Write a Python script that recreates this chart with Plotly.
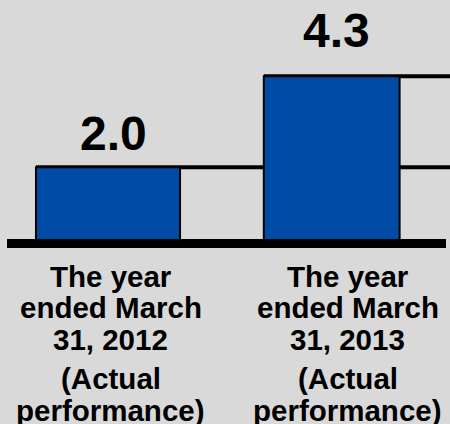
import plotly.graph_objects as go

# Data
categories = ["FY2012", "FY2013"]
values = [2.0, 4.3]
value_labels = ["2.0", "4.3"]
label_lines = [
    [["The year", "ended March", "31, 2012"], ["(Actual", "performance)"]],
    [["The year", "ended March", "31, 2013"], ["(Actual", "performance)"]],
]

# Styling
BG = "#d9d9d9"
BAR_BLUE = "#004ba5"
FONT = "Liberation Sans, Arial, sans-serif"
bar_widths = [0.644, 0.607]
x_range = [-0.4828, 1.5288]
y_range = [-4.482, 6.225]
value_xshift = 5
value_yshift = [5, 17]
cat_xshift = [2.5, 16]
cat_font_size = 29.5
line_pitch = 31.5
para_gap = 8
first_line_offset = 29.5

fig = go.Figure()
fig.add_trace(go.Bar(
    x=categories,
    y=values,
    width=bar_widths,
    marker=dict(color=BAR_BLUE, line=dict(color="black", width=2)),
    hoverinfo="skip",
))

shapes = []
# Horizontal level lines running from each bar's left edge to the right edge
for i, v in enumerate(values):
    shapes.append(dict(
        type="line", xref="x", yref="y",
        x0=i - bar_widths[i] / 2, x1=x_range[1], y0=v, y1=v,
        line=dict(color="black", width=4), layer="below",
    ))
# Thick baseline sitting on zero
shapes.append(dict(
    type="rect", xref="paper", yref="y",
    x0=7 / 450, x1=446 / 450,
    ysizemode="pixel", yanchor=0, y0=-1.5, y1=7.5,
    fillcolor="black", line=dict(width=0), layer="above",
))

annotations = []
for i, (v, t) in enumerate(zip(values, value_labels)):
    annotations.append(dict(
        x=i, y=v, xref="x", yref="y", text=t, showarrow=False,
        xanchor="center", yanchor="bottom",
        xshift=value_xshift, yshift=value_yshift[i],
        font=dict(family=FONT, size=48, color="black", weight="bold"),
    ))

for i, paragraphs in enumerate(label_lines):
    offset = first_line_offset
    for p, lines in enumerate(paragraphs):
        if p > 0:
            offset += para_gap
        for line in lines:
            annotations.append(dict(
                x=i, y=0, xref="x", yref="y", text=line, showarrow=False,
                xanchor="center", yanchor="middle",
                xshift=cat_xshift[i], yshift=-offset,
                font=dict(family=FONT, size=cat_font_size, color="black",
                          weight="bold"),
            ))
            offset += line_pitch

fig.update_layout(
    width=450, height=424,
    margin=dict(l=0, r=0, t=0, b=0),
    paper_bgcolor=BG, plot_bgcolor=BG,
    showlegend=False,
    shapes=shapes,
    annotations=annotations,
    xaxis=dict(range=x_range, showticklabels=False, showgrid=False,
               zeroline=False, showline=False, ticks=""),
    yaxis=dict(range=y_range, showticklabels=False, showgrid=False,
               zeroline=False, showline=False, ticks=""),
)

fig.write_html("out.html")
